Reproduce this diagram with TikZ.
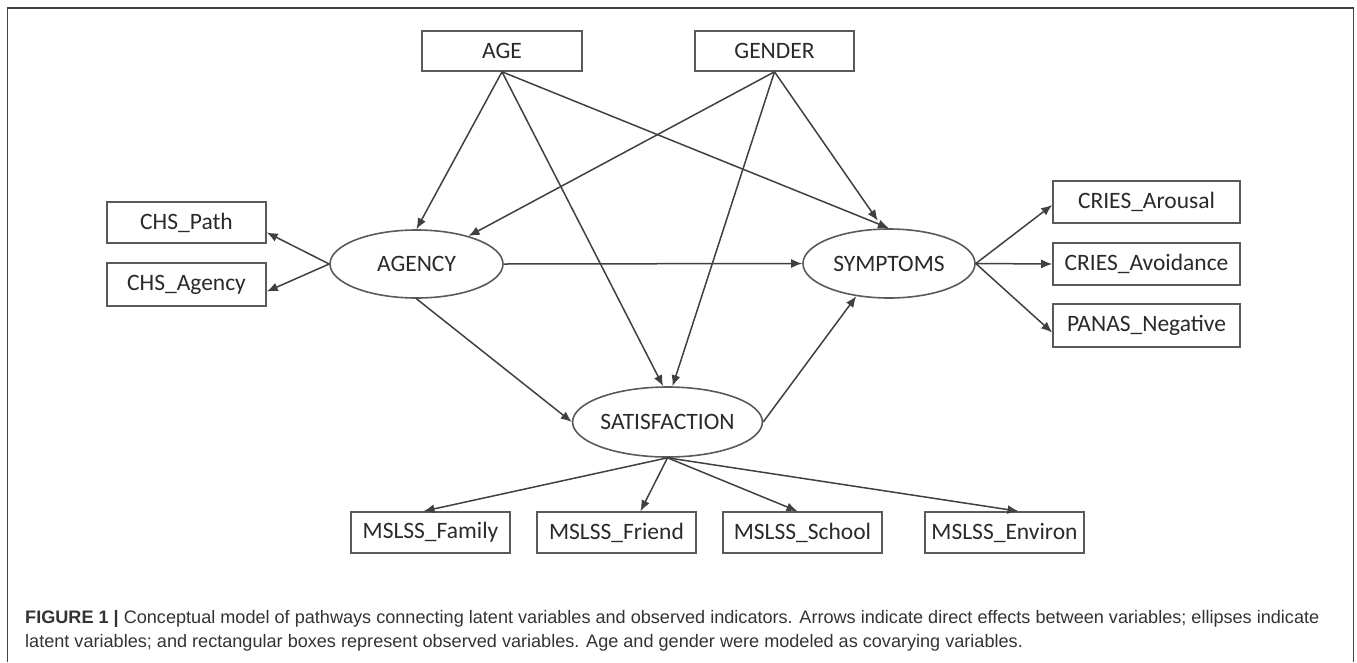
\documentclass[tikz,border=0pt]{standalone}
\usepackage{fontspec}
\setmainfont{Liberation Sans}
\newfontfamily\diagfont{Carlito}
\usetikzlibrary{shapes.geometric,arrows.meta}
\definecolor{linegray}{HTML}{5A5A5A}
\definecolor{arrowgray}{HTML}{404040}
\definecolor{textgray}{HTML}{2A2A2A}
\definecolor{capgray}{HTML}{333333}
\definecolor{framegray}{HTML}{444444}
\begin{document}
\begin{tikzpicture}[x=1pt,y=-1pt,
  obs/.style={draw=linegray,line width=1.6pt,fill=white,minimum height=41pt,minimum width=159pt,inner sep=0pt,font=\diagfont\fontsize{23.5}{27}\selectfont,text=textgray},
  lat/.style={ellipse,draw=linegray,line width=1.6pt,fill=white,inner sep=0pt,minimum width=173pt,minimum height=68pt,font=\diagfont\fontsize{23.5}{27}\selectfont,text=textgray},
  conn/.style={draw=arrowgray,line width=1.5pt,-{Latex[length=11pt,width=9pt]}},
  captext/.style={anchor=base west,inner sep=0pt,font=\fontsize{18.1}{21}\selectfont,text=capgray}
]
\useasboundingbox (0,0) rectangle (1357,662);
\draw[framegray,line width=1.5pt] (7.5,662) -- (7.5,8) -- (1353.5,8) -- (1353.5,662);

% observed covariates
\node[obs,minimum width=160pt,minimum height=40pt] (age) at (502,51) {AGE};
\node[obs,minimum height=40pt] (gender) at (774.5,51) {GENDER};
% left indicators
\node[obs] (chsp) at (186.5,222.5) {CHS\_Path};
\node[obs,minimum height=43pt] (chsa) at (186.5,284.5) {CHS\_Agency};
% latent variables
\node[lat] (agency) at (416.5,264) {AGENCY};
\node[lat,minimum width=172pt,minimum height=69pt] (sym) at (889,263.5) {SYMPTOMS};
\node[lat,minimum width=175pt,minimum height=70pt] (sat) at (667.5,422) {SATISFACTION};
% right indicators
\node[obs,minimum width=187pt,minimum height=42pt] (criesa) at (1146.5,202) {CRIES\_Arousal};
\node[obs,minimum width=187pt,minimum height=42pt] (criesv) at (1146.5,264) {CRIES\_Avoidance};
\node[obs,minimum width=187pt,minimum height=43pt] (panas) at (1146.5,325.5) {PANAS\_Negative};
% bottom indicators
\node[obs] (family) at (430.5,532.5) {MSLSS\_Family};
\node[obs] (friend) at (616.5,532.5) {MSLSS\_Friend};
\node[obs] (school) at (802.5,532.5) {MSLSS\_School};
\node[obs] (environ) at (1004.5,532.5) {MSLSS\_Environ};

% connectors
\draw[conn] (age.south) -- (agency.north);
\draw[conn] (age.south) -- (sat.97);
\draw[conn] (age.south) -- (sym.north);
\draw[conn] (gender.south) -- (agency);
\draw[conn] (gender.south) -- (sat.82);
\draw[conn,shorten >=9pt] (gender.south) -- ([xshift=-6pt]sym.north);
\draw[conn] (agency.east) -- (sym.west);
\draw[conn] (agency.south) -- (sat.west);
\draw[conn] (sat.east) -- (sym.225);
\draw[conn] (agency.west) -- ([yshift=-10pt]chsp.east);
\draw[conn] (agency.west) -- ([yshift=-7pt]chsa.east);
\draw[conn] (sym.east) -- ([yshift=-3pt]criesa.west);
\draw[conn] (sym.east) -- (criesv.west);
\draw[conn] (sym.east) -- ([yshift=-7pt]panas.west);
\draw[conn] (sat.south) -- ([xshift=-7pt]family.north);
\draw[conn] (sat.south) -- ([xshift=24pt]friend.north);
\draw[conn] (sat.south) -- ([xshift=-5pt]school.north);
\draw[conn] (sat.south) -- ([xshift=14pt]environ.north);

% caption
\node[captext] (cap1) at (25,623) {\textbf{FIGURE 1 |} Conceptual model of pathways connecting latent variables and observed indicators. Arrows indicate direct effects between variables; ellipses indicate};
\node[captext] (cap2) at (25,647) {latent variables; and rectangular boxes represent observed variables. Age and gender were modeled as covarying variables.};
\end{tikzpicture}
\end{document}
